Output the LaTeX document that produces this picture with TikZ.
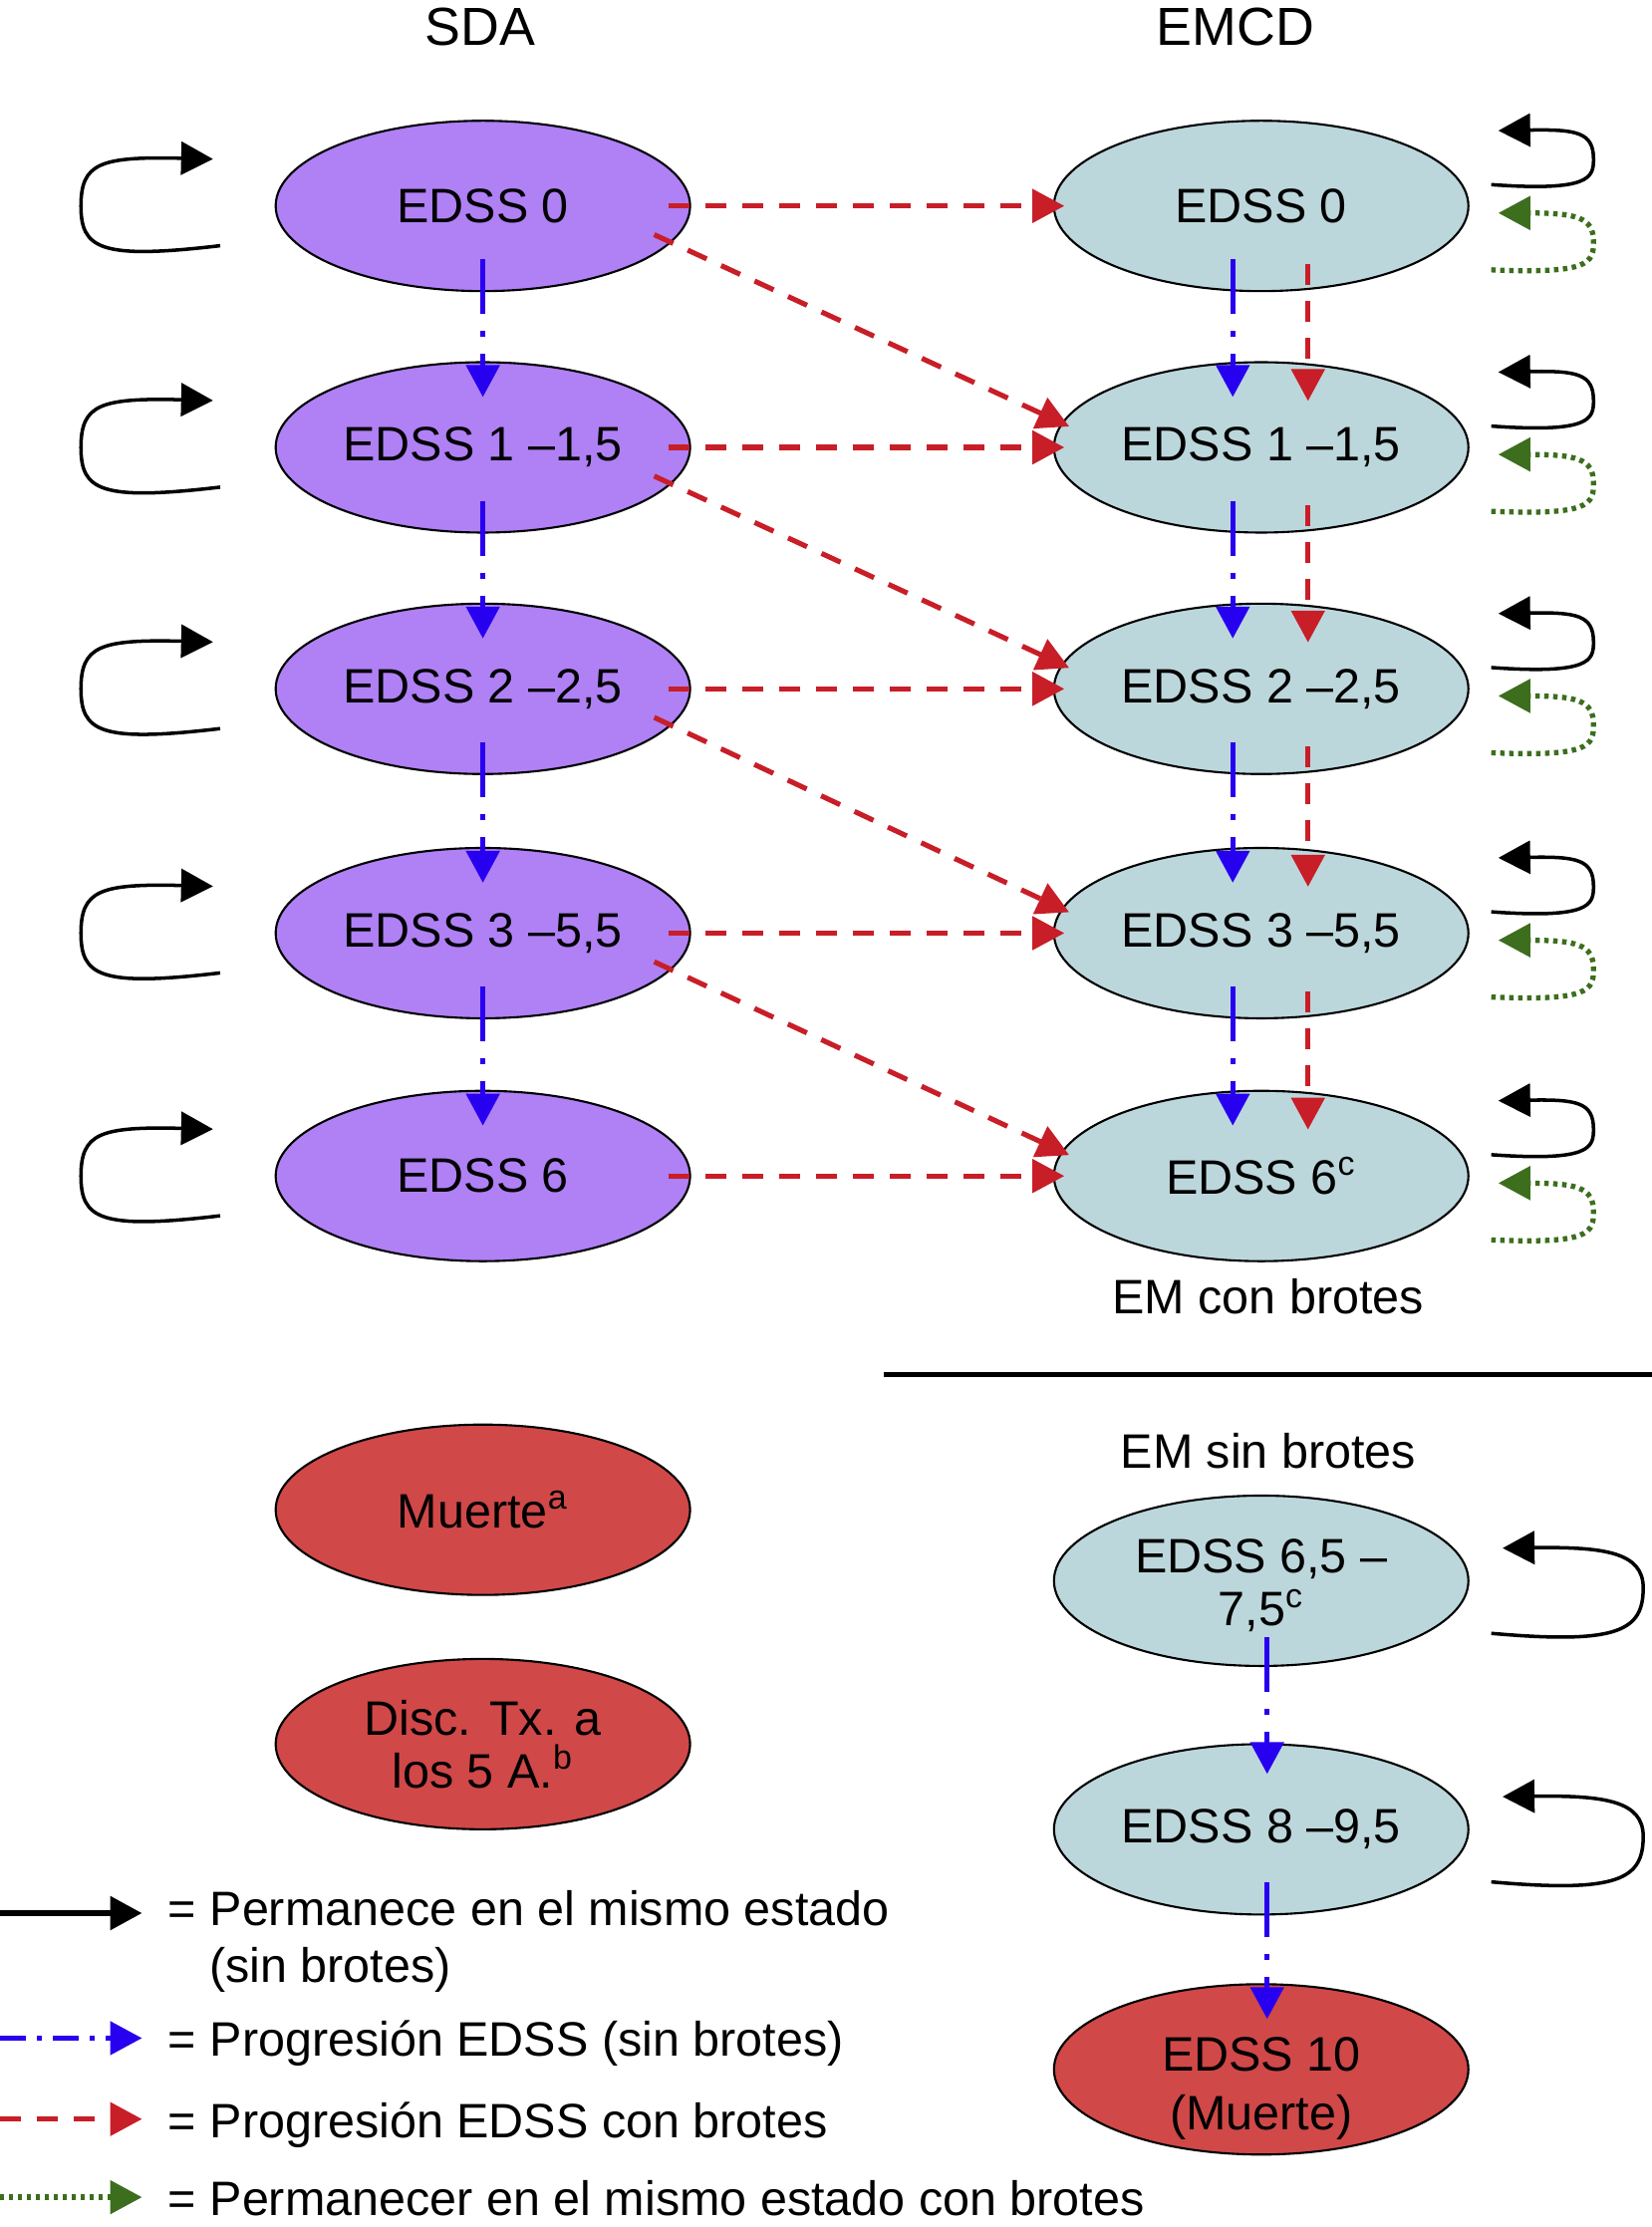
\documentclass[tikz,border=0pt]{standalone}
\usepackage{fontspec}
\setmainfont{Liberation Sans}
\usetikzlibrary{arrows.meta,shapes.geometric}
\definecolor{sdafill}{RGB}{176,128,245}
\definecolor{emcdfill}{RGB}{188,215,220}
\definecolor{deadfill}{RGB}{208,72,72}
\definecolor{brote}{RGB}{200,30,40}
\definecolor{prog}{RGB}{40,0,240}
\definecolor{quedo}{RGB}{60,110,30}
\begin{document}
\begin{tikzpicture}[x=0.14256mm, y=-0.14256mm,
  every node/.style={font=\fontsize{13.8}{15}\selectfont},
  estado/.style={ellipse,draw,line width=0.6pt,minimum width=41.6mm,minimum height=17.1mm,inner sep=0pt,align=center},
  titulo/.style={anchor=base,font=\fontsize{15.3}{16}\selectfont},
  subtitulo/.style={anchor=base},
  leyenda/.style={anchor=base west,inner sep=0pt},
  tip/.style={-{Triangle[length=3.2mm,width=3.3mm]}},
  stay/.style={tip,line width=1pt},
  staybrote/.style={tip,quedo,line width=1.5pt,dash pattern=on 0.45mm off 0.45mm},
  brotes/.style={tip,brote,line width=1.45pt,dash pattern=on 2.1mm off 1.6mm,shorten <=-2.3mm,shorten >=-1.15mm},
  progresion/.style={tip,prog,line width=1.45pt,dash pattern=on 5.5mm off 1.7mm on 0.6mm off 1.7mm,shorten <=-3.3mm,shorten >=-3.6mm}]
\useasboundingbox (0,0) rectangle (1163,1568);
\node[titulo] (sda) at (338,32) {SDA};
\node[titulo] (emcd) at (870,32) {EMCD};
\foreach \t/\y [count=\i from 0] in {{EDSS 0}/145, {EDSS 1 –1,5}/315, {EDSS 2 –2,5}/485, {EDSS 3 –5,5}/657, {EDSS 6}/828} {
    \node[estado,fill=sdafill] (l\i) at (340,\y) {\t};
    \draw[stay] (155,\y+28) .. controls (70,\y+38) and (57,\y+30) .. (57,\y) .. controls (57,\y-30) and (70,\y-35) .. (150,\y-33);
}
\foreach \t/\y [count=\i from 0] in {{EDSS 0}/145, {EDSS 1 –1,5}/315, {EDSS 2 –2,5}/485, {EDSS 3 –5,5}/657, {EDSS 6\textsuperscript{c}}/828} {
    \node[estado,fill=emcdfill] (r\i) at (888,\y) {\t};
    \draw[stay] (1050,\y-15) .. controls (1120,\y-10) and (1122,\y-20) .. (1122,\y-33) .. controls (1122,\y-52) and (1110,\y-54) .. (1055,\y-53);
    \draw[staybrote] (1050,\y+45) .. controls (1120,\y+48) and (1122,\y+40) .. (1122,\y+25) .. controls (1122,\y+8) and (1110,\y+5) .. (1055,\y+5);
}
\foreach \i in {0,...,4}
    \draw[brotes] (l\i.east) -- (r\i.west);
\foreach \i [count=\j from 1] in {0,...,3} {
    \draw[brotes,shorten <=-1.9mm,shorten >=-0.85mm] (l\i.-11) -- (r\j.173);
    \draw[progresion] (l\i.south) -- (l\j.north);
    \draw[progresion] ([xshift=-2.85mm]r\i.south) -- ([xshift=-2.85mm]r\j.north);
    \draw[brotes,shorten <=-2.85mm,shorten >=-4mm] ([xshift=4.7mm]r\i.south) -- ([xshift=4.7mm]r\j.north);
}
\node[subtitulo] (con) at (893,925) {EM con brotes};
\draw[line width=1.3pt] (622,968) -- (1163,968);
\node[subtitulo] (sin) at (893,1034) {EM sin brotes};
\node[estado,fill=deadfill] (muerte) at (340,1063) {Muerte\textsuperscript{a}};
\node[estado,fill=deadfill] (disc) at (340,1228) {Disc. Tx. a\\los 5 A.\textsuperscript{b}};
\node[estado,fill=emcdfill] (s1) at (888,1113) {\raisebox{-0.8mm}[\height][\depth]{\begin{tabular}{@{}c@{}}EDSS 6,5 –\\7,5\textsuperscript{c}\end{tabular}}};
\node[estado,fill=emcdfill] (s2) at (888,1288) {EDSS 8 –9,5};
\node[estado,fill=deadfill] (s3) at (888,1457) {\raisebox{-2.1mm}[\height][\depth]{\begin{tabular}{@{}c@{}}EDSS 10\\[0.6mm](Muerte)\end{tabular}}};
\draw[progresion,shorten <=-3mm,shorten >=-3.1mm] ([xshift=0.6mm]s1.south) -- ([xshift=0.6mm]s2.north);
\draw[progresion] ([xshift=0.6mm]s2.south) -- ([xshift=0.6mm]s3.north);
\foreach \y in {1113,1288}
    \draw[stay] (1050,\y+37) .. controls (1140,\y+45) and (1157,\y+35) .. (1157,\y+5) .. controls (1157,\y-20) and (1130,\y-24) .. (1058,\y-23);
\coordinate (k1) at (0,1347);  \coordinate (k1e) at (100,1347);
\coordinate (k2) at (0,1435);  \coordinate (k2e) at (100,1435);
\coordinate (k3) at (0,1492);  \coordinate (k3e) at (100,1492);
\coordinate (k4) at (0,1547);  \coordinate (k4e) at (100,1547);
\draw[stay,line width=1.7pt] (k1) -- (k1e);
\draw[progresion,shorten <=0pt,shorten >=0pt,dash pattern=on 2.6mm off 1.1mm on 0.5mm off 1.1mm] (k2) -- (k2e);
\draw[brotes,shorten <=0pt,shorten >=0pt] (k3) -- (k3e);
\draw[staybrote] (k4) -- (k4e);
\node[leyenda] (t1) at (118,1356) {= Permanece en el mismo estado};
\node[leyenda] (t1b) at (147,1396) {(sin brotes)};
\node[leyenda] (t2) at (118,1448) {= Progresión EDSS (sin brotes)};
\node[leyenda] (t3) at (118,1505) {= Progresión EDSS con brotes};
\node[leyenda] (t4) at (118,1560) {= Permanecer en el mismo estado con brotes};
\end{tikzpicture}
\end{document}
